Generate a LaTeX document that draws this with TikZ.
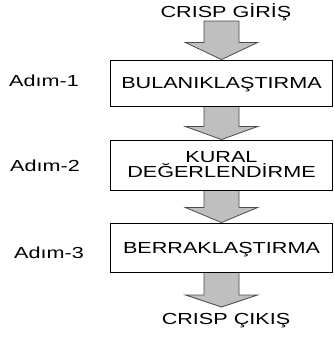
\documentclass[tikz,border=0pt]{standalone}
\usepackage{fontspec}
\setmainfont{Liberation Sans}[FakeStretch=1.35]
\usetikzlibrary{calc,backgrounds}
\newcommand\myfatarrow[3]{%
  \draw[fatarr] let \p1=(#1), \p2=(#2) in
    (\x2-17.5pt,\y1) -- (\x2+17.5pt,\y1) -- (\x2+17.5pt,\y2+#3) --
    (\x2+36pt,\y2+#3) -- (\x2,\y2) -- (\x2-36pt,\y2+#3) --
    (\x2-17.5pt,\y2+#3) -- cycle;}
\begin{document}
\begin{tikzpicture}[x=1pt,y=-1pt,
  txt/.style={font=\fontsize{16}{15}\selectfont},
  box/.style={txt, draw=black, line width=0.9pt, fill=white,
    minimum width=222pt, inner sep=0pt, align=center},
  oneline/.style={text height=11.5pt, text depth=0pt},
  lbl/.style={txt, oneline, inner sep=0pt},
  fatarr/.style={draw=black!70, line width=0.8pt, fill=black!25}]
\useasboundingbox (0,0) rectangle (334,338);

\node[lbl] (in) at (226,11.5) {CRISP GİRİŞ};
\node[box, oneline, minimum height=46pt] (b1) at (221.5,83) {BULANIKLAŞTIRMA};
\node[box, minimum height=50pt] (b2) at (221.5,165) {KURAL\\DEĞERLENDİRME};
\node[box, oneline, minimum height=49pt] (b3) at (221.5,247.5) {BERRAKLAŞTIRMA};
\node[lbl] (out) at (226,319) {CRISP ÇIKIŞ};

\node[lbl] (s1) at (44,81) {Adım-1};
\node[lbl] (s2) at (45,166) {Adım-2};
\node[lbl] (s3) at (49,252.5) {Adım-3};

\coordinate (a1) at (221.5,21);
\coordinate (a4) at (221.5,307);

\begin{scope}[on background layer]
\fill[white] (0,0) rectangle (334,338);
\myfatarrow{a1}{b1.north}{17pt}
\myfatarrow{b1.south}{b2.north}{13pt}
\myfatarrow{b2.south}{b3.north}{15pt}
\myfatarrow{b3.south}{a4}{12pt}
\end{scope}
\end{tikzpicture}
\end{document}
